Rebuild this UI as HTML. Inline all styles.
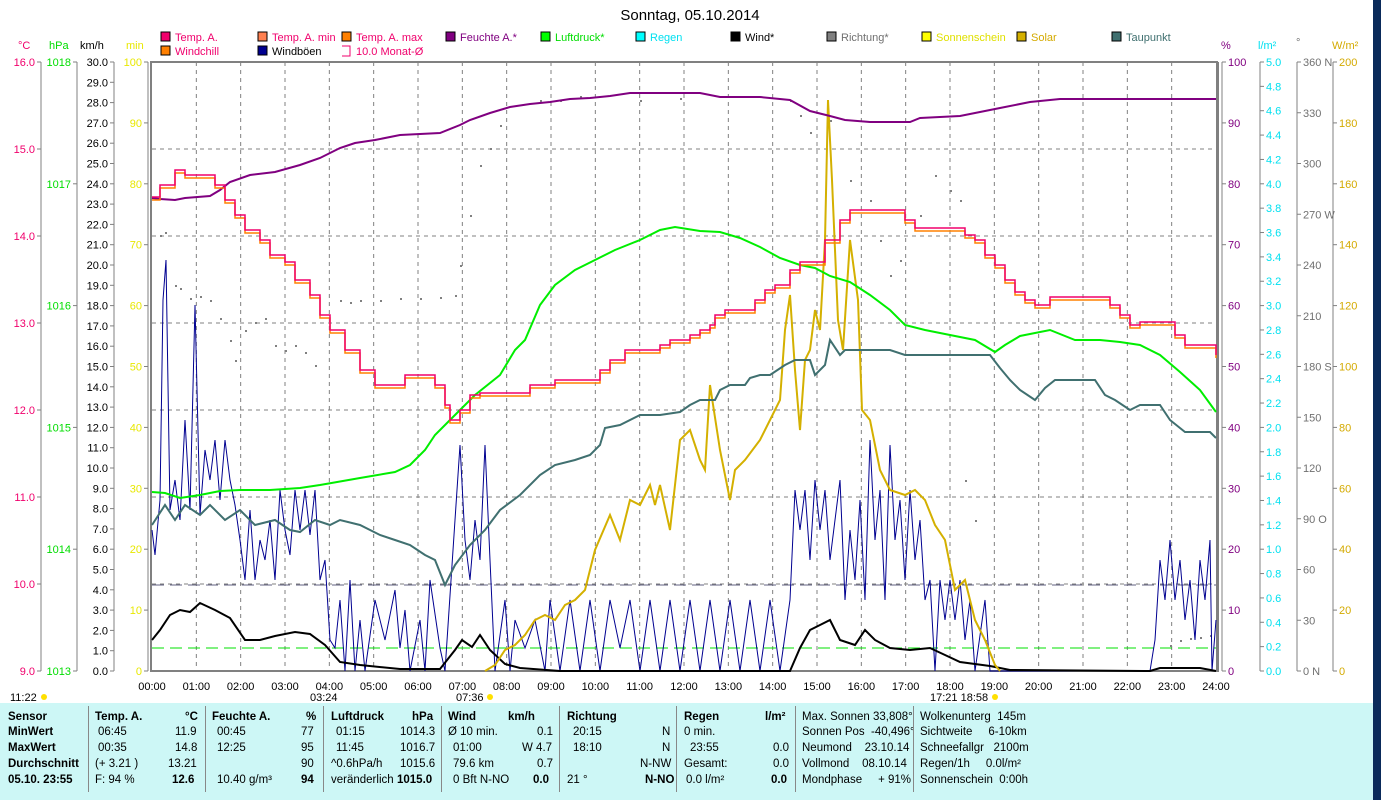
<!DOCTYPE html>
<html><head><meta charset="utf-8"><style>
html,body{margin:0;padding:0;width:1381px;height:800px;overflow:hidden;background:#fff;font-family:"Liberation Sans",sans-serif;}
svg{position:absolute;left:0;top:0}
#panel{position:absolute;left:0;top:703px;width:1373px;height:97px;background:#cdf7f6;font-size:11.5px;}
#panel div{position:absolute;white-space:nowrap}
.b{font-weight:bold}
.sep{border-left:1px solid #888;width:0;height:86px;top:3px}
#dark{position:absolute;left:1373px;top:0;width:8px;height:800px;background:#0a2a5a}
</style></head><body>
<svg width="1381" height="800" font-family="Liberation Sans, sans-serif" font-size="11">
<text x="690" y="20" font-size="15" text-anchor="middle">Sonntag, 05.10.2014</text>
<g font-size="11">
<rect x="161" y="32" width="9" height="9" fill="#f0006c" stroke="#000"/><text x="175" y="41" fill="#f0006c">Temp. A.</text>
<rect x="258" y="32" width="9" height="9" fill="#ff8050" stroke="#000"/><text x="272" y="41" fill="#f0006c">Temp. A. min</text>
<rect x="342" y="32" width="9" height="9" fill="#ff8000" stroke="#000"/><text x="356" y="41" fill="#f0006c">Temp. A. max</text>
<rect x="446" y="32" width="9" height="9" fill="#800080" stroke="#000"/><text x="460" y="41" fill="#800080">Feuchte A.*</text>
<rect x="541" y="32" width="9" height="9" fill="#00ff00" stroke="#000"/><text x="555" y="41" fill="#00dd00">Luftdruck*</text>
<rect x="636" y="32" width="9" height="9" fill="#00ffff" stroke="#000"/><text x="650" y="41" fill="#00e0f0">Regen</text>
<rect x="731" y="32" width="9" height="9" fill="#000" stroke="#000"/><text x="745" y="41">Wind*</text>
<rect x="827" y="32" width="9" height="9" fill="#808080" stroke="#000"/><text x="841" y="41" fill="#707070">Richtung*</text>
<rect x="922" y="32" width="9" height="9" fill="#ffff00" stroke="#000"/><text x="936" y="41" fill="#e0e000">Sonnenschein</text>
<rect x="1017" y="32" width="9" height="9" fill="#d4b000" stroke="#000"/><text x="1031" y="41" fill="#d4aa00">Solar</text>
<rect x="1112" y="32" width="9" height="9" fill="#407070" stroke="#000"/><text x="1126" y="41" fill="#407070">Taupunkt</text>
<rect x="161" y="46" width="9" height="9" fill="#ff8000" stroke="#000"/><text x="175" y="55" fill="#f0006c">Windchill</text>
<rect x="258" y="46" width="9" height="9" fill="#000090" stroke="#000"/><text x="272" y="55">Windböen</text>
<path d="M342 46h8v10h-8" fill="none" stroke="#f0006c"/><text x="356" y="55" fill="#f0006c">10.0 Monat-Ø</text>
</g>
<text x="18" y="49" fill="#f0006c">°C</text><text x="49" y="49" fill="#00dd00">hPa</text><text x="80" y="49">km/h</text><text x="126" y="49" fill="#e8e800">min</text>
<text x="1221" y="49" fill="#800080">%</text><text x="1258" y="49" fill="#00e0f0">l/m²</text><text x="1296" y="46" fill="#707070">°</text><text x="1332" y="49" fill="#d4aa00">W/m²</text>
<g id="axes" stroke="#808080" fill="none"></g>
<g id="lab"></g>
<g id="grid" stroke="#808080" stroke-dasharray="4,4" stroke-width="1"></g>
<rect x="151" y="62" width="1066" height="609" fill="none" stroke="#808080" stroke-width="2"/>
<line x1="1218" y1="62" x2="1218" y2="672" stroke="#808080" stroke-width="2"/>
<line x1="152" y1="585" x2="1216" y2="585" stroke="#606080" stroke-dasharray="12,6"/>
<line x1="152" y1="648" x2="1216" y2="648" stroke="#00e000" stroke-dasharray="12,6"/>
<g id="dots" fill="#808080"></g>
<polyline fill="none" stroke="#000090" stroke-width="1" points="152,530 155,555 160,500 163,300 166,260 170,510 175,480 180,520 185,420 190,510 195,305 200,515 205,450 210,480 215,440 220,500 225,440 230,480 235,505 240,540 245,580 250,510 255,580 260,540 265,560 270,520 275,580 280,490 285,530 290,555 295,490 300,530 305,490 310,535 315,490 320,580 325,560 330,640 335,648 340,600 345,671 350,580 355,671 360,620 365,671 375,600 385,640 395,590 400,648 405,610 410,671 420,620 425,671 430,580 440,648 445,671 455,520 460,445 465,540 470,580 475,520 480,560 485,445 490,560 495,671 505,600 510,671 515,620 525,648 535,620 545,671 550,600 560,671 570,600 580,671 590,600 600,671 610,600 620,648 630,600 640,671 650,600 660,671 670,600 680,671 690,600 700,671 710,600 720,671 730,600 740,671 750,600 760,671 770,600 780,671 790,600 795,490 800,530 805,490 810,560 815,480 820,530 825,490 830,560 840,480 845,600 850,530 855,580 860,500 865,600 870,440 875,540 880,490 885,600 890,445 895,540 900,500 905,580 910,490 915,560 920,520 925,600 930,580 935,671 940,580 945,620 950,580 955,620 960,580 965,640 970,600 975,671 985,600 990,671 1150,671 1155,640 1160,560 1165,600 1170,540 1175,600 1180,560 1185,620 1190,580 1195,640 1200,560 1205,600 1210,540 1212,671 1216,620"/>
<polyline fill="none" stroke="#000" stroke-width="2" points="152,640 160,630 170,615 180,610 190,612 200,603 215,610 230,618 245,640 260,640 275,636 295,632 310,634 325,645 340,662 360,665 400,669 440,669 455,650 462,640 472,647 480,635 490,650 505,664 520,668 560,671 790,671 800,648 810,630 820,625 830,620 840,640 855,645 865,630 875,640 890,648 910,650 930,648 945,655 960,662 990,666 1010,670 1150,671 1160,668 1200,668 1216,671"/>
<polyline fill="none" stroke="#d4b000" stroke-width="2" points="485,671 495,665 505,650 515,645 525,635 535,620 545,615 555,620 565,605 575,600 585,590 595,550 610,515 620,540 630,500 640,505 650,485 655,505 660,485 670,530 680,440 690,430 700,460 705,470 710,385 720,450 730,500 735,470 745,460 760,440 770,420 780,400 785,330 790,295 795,370 800,430 805,360 810,350 815,310 820,330 825,240 828,100 832,180 838,320 843,350 850,240 858,300 862,410 870,420 880,470 890,490 905,495 915,490 925,500 935,525 945,540 955,590 965,580 975,620 985,640 995,665 1000,671"/>
<polyline fill="none" stroke="#407070" stroke-width="2" points="152,525 165,505 175,520 185,505 200,515 210,505 225,520 240,510 255,525 275,520 290,530 300,532 315,520 330,525 340,520 360,525 380,535 395,540 410,545 425,555 435,560 445,585 455,565 470,545 485,530 500,510 520,495 540,475 555,465 575,460 590,455 600,445 605,428 620,425 640,415 660,415 680,412 690,405 700,400 715,400 720,390 730,385 745,385 750,378 760,375 770,375 785,365 795,360 810,360 815,375 825,365 830,340 840,355 845,350 890,350 905,355 990,355 1000,368 1010,380 1020,390 1035,400 1045,388 1055,380 1095,380 1105,395 1115,400 1130,410 1140,405 1160,405 1170,420 1185,432 1210,432 1216,438"/>
<polyline fill="none" stroke="#00ee00" stroke-width="2" points="152,492 165,493 180,498 200,495 220,491 240,490 270,490 300,488 320,485 360,478 395,472 410,465 425,450 435,435 455,415 475,395 500,375 515,350 525,340 540,305 555,285 575,270 595,260 615,250 640,240 660,230 675,227 700,231 720,232 740,238 760,247 780,258 800,265 815,268 830,276 850,282 870,295 890,310 905,325 925,330 950,335 975,340 995,352 1005,345 1020,336 1050,330 1075,340 1100,340 1120,342 1140,345 1160,355 1180,372 1200,390 1216,412"/>
<polyline fill="none" stroke="#800080" stroke-width="2" points="152,198 160,199 175,200 185,198 210,196 220,190 230,182 250,175 275,172 300,165 320,158 340,148 355,143 375,140 400,135 440,133 460,125 470,120 490,113 510,107 530,104 550,102 570,99 590,98 610,96 630,93 700,93 720,97 760,97 790,100 810,111 830,116 845,120 870,122 910,122 920,118 960,116 980,112 1000,108 1030,102 1060,99 1216,99"/>
<polyline id="tmax" fill="none" stroke="#ff8000" stroke-width="1.5"/>
<polyline id="temp" fill="none" stroke="#f0006c" stroke-width="1.5"/>
<g id="times" font-size="11" text-anchor="middle"></g>
<text x="10" y="701" font-size="11">11:22</text><circle cx="44" cy="697" r="3" fill="#ffe000"/>
<text x="310" y="701" font-size="11">03:24</text><text x="456" y="701" font-size="11">07:36</text><text x="930" y="701" font-size="11">17:21 18:58</text>
<circle cx="490" cy="697" r="3" fill="#ffe000"/><circle cx="995" cy="697" r="3" fill="#ffe000"/>
</svg>
<div id="panel">
<div class="b" style="left:8px;top:8px">Sensor</div><div class="b" style="left:8px;top:23px">MinWert</div><div class="b" style="left:8px;top:39px">MaxWert</div><div class="b" style="left:8px;top:55px">Durchschnitt</div><div class="b" style="left:8px;top:71px">05.10. 23:55</div>
<div class="sep" style="left:88px"></div>
<div class="b" style="left:95px;top:8px">Temp. A.</div><div class="b" style="left:185px;top:8px">°C</div>
<div style="left:98px;top:23px">06:45</div><div style="left:175px;top:23px">11.9</div>
<div style="left:98px;top:39px">00:35</div><div style="left:175px;top:39px">14.8</div>
<div style="left:95px;top:55px">(+ 3.21 )</div><div style="left:168px;top:55px">13.21</div>
<div style="left:95px;top:71px">F: 94 %</div><div class="b" style="left:172px;top:71px">12.6</div>
<div class="sep" style="left:205px"></div>
<div class="b" style="left:212px;top:8px">Feuchte A.</div><div class="b" style="left:306px;top:8px">%</div>
<div style="left:217px;top:23px">00:45</div><div style="left:301px;top:23px">77</div>
<div style="left:217px;top:39px">12:25</div><div style="left:301px;top:39px">95</div>
<div style="left:301px;top:55px">90</div>
<div style="left:217px;top:71px">10.40 g/m³</div><div class="b" style="left:301px;top:71px">94</div>
<div class="sep" style="left:323px"></div>
<div class="b" style="left:331px;top:8px">Luftdruck</div><div class="b" style="left:412px;top:8px">hPa</div>
<div style="left:336px;top:23px">01:15</div><div style="left:400px;top:23px">1014.3</div>
<div style="left:336px;top:39px">11:45</div><div style="left:400px;top:39px">1016.7</div>
<div style="left:331px;top:55px">^0.6hPa/h</div><div style="left:400px;top:55px">1015.6</div>
<div style="left:331px;top:71px">veränderlich</div><div class="b" style="left:397px;top:71px">1015.0</div>
<div class="sep" style="left:441px"></div>
<div class="b" style="left:448px;top:8px">Wind</div><div class="b" style="left:508px;top:8px">km/h</div>
<div style="left:448px;top:23px">Ø 10 min.</div><div style="left:537px;top:23px">0.1</div>
<div style="left:453px;top:39px">01:00</div><div style="left:522px;top:39px">W 4.7</div>
<div style="left:453px;top:55px">79.6 km</div><div style="left:537px;top:55px">0.7</div>
<div style="left:453px;top:71px">0 Bft N-NO</div><div class="b" style="left:533px;top:71px">0.0</div>
<div class="sep" style="left:559px"></div>
<div class="b" style="left:567px;top:8px">Richtung</div>
<div style="left:573px;top:23px">20:15</div><div style="left:662px;top:23px">N</div>
<div style="left:573px;top:39px">18:10</div><div style="left:662px;top:39px">N</div>
<div style="left:640px;top:55px">N-NW</div>
<div style="left:567px;top:71px">21 °</div><div class="b" style="left:645px;top:71px">N-NO</div>
<div class="sep" style="left:676px"></div>
<div class="b" style="left:684px;top:8px">Regen</div><div class="b" style="left:765px;top:8px">l/m²</div>
<div style="left:684px;top:23px">0 min.</div>
<div style="left:690px;top:39px">23:55</div><div style="left:773px;top:39px">0.0</div>
<div style="left:684px;top:55px">Gesamt:</div><div style="left:773px;top:55px">0.0</div>
<div style="left:686px;top:71px">0.0 l/m²</div><div class="b" style="left:771px;top:71px">0.0</div>
<div class="sep" style="left:795px"></div>
<div style="left:802px;top:8px">Max. Sonnen 33,808°</div>
<div style="left:802px;top:23px">Sonnen Pos &nbsp;-40,496°</div>
<div style="left:802px;top:39px">Neumond &nbsp;&nbsp;&nbsp;23.10.14</div>
<div style="left:802px;top:55px">Vollmond &nbsp;&nbsp;&nbsp;08.10.14</div>
<div style="left:802px;top:71px">Mondphase &nbsp;&nbsp;&nbsp;&nbsp;+ 91%</div>
<div class="sep" style="left:913px"></div>
<div style="left:920px;top:8px">Wolkenunterg &nbsp;145m</div>
<div style="left:920px;top:23px">Sichtweite &nbsp;&nbsp;&nbsp;&nbsp;6-10km</div>
<div style="left:920px;top:39px">Schneefallgr &nbsp;&nbsp;2100m</div>
<div style="left:920px;top:55px">Regen/1h &nbsp;&nbsp;&nbsp;&nbsp;0.0l/m²</div>
<div style="left:920px;top:71px">Sonnenschein &nbsp;0:00h</div>
</div>
<div id="dark"></div>
<script>
const NS="http://www.w3.org/2000/svg";
function el(p,t,a,txt){const e=document.createElementNS(NS,t);for(const k in a)e.setAttribute(k,a[k]);if(txt!==undefined)e.textContent=txt;document.getElementById(p).appendChild(e);return e;}
const T=62,B=671;
for(let h=1;h<24;h++){const x=152+h*1064/24;el('grid','line',{x1:x,y1:T,x2:x,y2:B});}
for(let i=1;i<7;i++){const y=T+i*87;el('grid','line',{x1:152,y1:y,x2:1216,y2:y});}
for(let h=0;h<=24;h++){const x=152+h*1064/24;el('times','text',{x:x,y:690},(h<10?'0':'')+h+':00');}
function axis(x,n,fmt,color,side){el('axes','line',{x1:x,y1:T,x2:x,y2:B});
 for(let i=0;i<=n;i++){const y=B-i*(B-T)/n;const v=fmt(i);if(v===null)continue;
  el('axes','line',{x1:side<0?x-4:x,y1:y,x2:side<0?x:x+4,y2:y});
  el('lab','text',{x:side<0?x-6:x+6,y:y+4,fill:color,'font-size':11,'text-anchor':side<0?'end':'start'},v);}}
axis(41,7,i=>(9+i).toFixed(1),'#f0006c',-1);
axis(77,5,i=>String(1013+i),'#00dd00',-1);
axis(114,30,i=>i.toFixed(1),'#000',-1);
axis(148,10,i=>String(i*10),'#e8e800',-1);
axis(1222,10,i=>String(i*10),'#800080',1);
axis(1260,25,i=>(i*0.2).toFixed(1),'#00e0f0',1);
axis(1297,12,i=>{const v=i*30;return v+(v==360?' N':v==270?' W':v==180?' S':v==90?' O':v==0?'   N':'');},'#707070',1);
axis(1333,10,i=>String(i*20),'#d4aa00',1);
const tp="152,197 160,185 175,170 185,175 205,175 215,185 225,200 235,215 245,230 260,240 270,255 285,262 295,280 310,295 320,315 330,330 345,350 360,370 375,385 395,385 405,375 425,375 435,385 445,405 450,420 460,410 470,395 480,393 520,393 530,385 545,385 555,380 590,380 600,370 610,360 625,350 640,350 660,345 670,340 690,335 700,330 710,325 715,315 725,310 745,310 755,300 765,290 775,285 790,270 800,262 815,262 825,240 840,220 850,210 895,210 905,220 915,228 955,228 965,235 975,240 985,255 995,265 1005,280 1015,292 1025,300 1035,305 1050,297 1095,297 1110,305 1120,315 1130,325 1140,322 1165,322 1175,335 1185,345 1205,345 1216,355";
function step(s,dy){const p=s.split(' ').map(q=>q.split(',').map(Number));let o=[];for(let i=0;i<p.length;i++){if(i>0)o.push(p[i][0]+','+(p[i-1][1]+dy));o.push(p[i][0]+','+(p[i][1]+dy));}return o.join(' ');}
document.getElementById('temp').setAttribute('points',step(tp,0));
document.getElementById('tmax').setAttribute('points',step(tp,3));
const d=[[160,235],[165,232],[175,285],[180,288],[190,298],[200,296],[210,300],[220,318],[230,340],[235,360],[245,330],[255,322],[265,318],[275,345],[285,350],[295,345],[305,352],[315,365],[340,300],[350,302],[360,300],[380,300],[400,298],[420,298],[440,297],[455,295],[460,265],[470,215],[480,165],[490,148],[500,125],[540,100],[560,100],[580,96],[640,100],[680,98],[790,100],[800,115],[810,132],[830,120],[850,180],[870,200],[880,240],[890,275],[900,260],[920,215],[935,175],[950,190],[960,200],[965,480],[975,520],[985,640],[1170,645],[1180,640],[1190,638],[1200,637],[1210,635]];
d.forEach(p=>el('dots','rect',{x:p[0],y:p[1],width:2,height:2}));
</script>
</body></html>
